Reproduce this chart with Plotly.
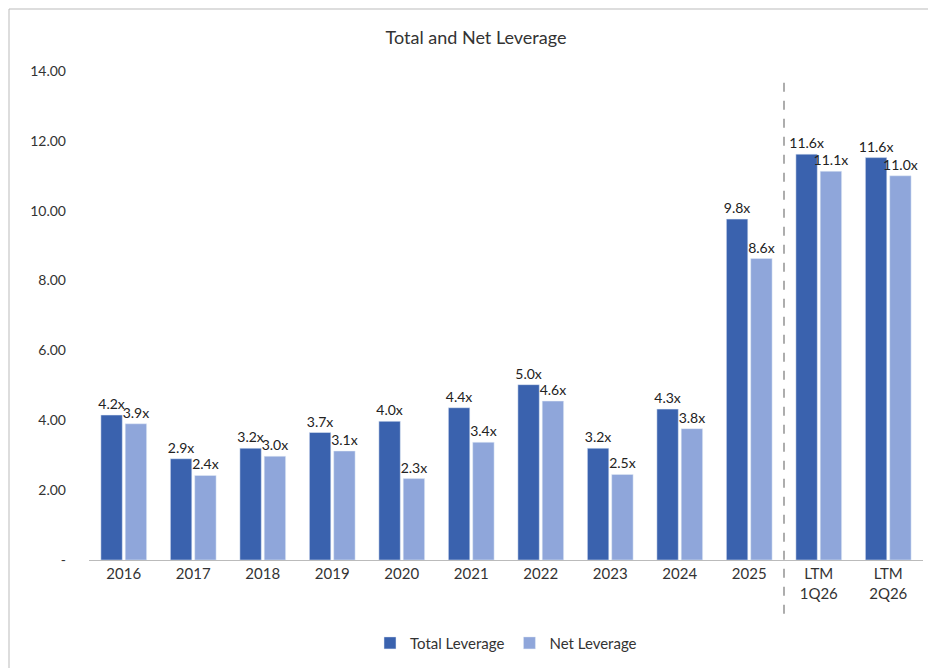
import plotly.graph_objects as go

categories = ["2016", "2017", "2018", "2019", "2020", "2021", "2022", "2023", "2024", "2025",
              "LTM<br>1Q26", "LTM<br>2Q26"]
total_leverage = [4.15, 2.9, 3.2, 3.65, 3.97, 4.36, 5.02, 3.2, 4.32, 9.76, 11.62, 11.52]
net_leverage = [3.9, 2.42, 2.97, 3.12, 2.33, 3.37, 4.55, 2.45, 3.76, 8.63, 11.13, 11.0]
total_labels = ["4.2x", "2.9x", "3.2x", "3.7x", "4.0x", "4.4x", "5.0x", "3.2x", "4.3x", "9.8x", "11.6x", "11.6x"]
net_labels = ["3.9x", "2.4x", "3.0x", "3.1x", "2.3x", "3.4x", "4.6x", "2.5x", "3.8x", "8.6x", "11.1x", "11.0x"]

font = "Lato, Liberation Sans, sans-serif"

fig = go.Figure()
fig.add_trace(go.Bar(x=categories, y=total_leverage, name="Total Leverage", marker_color="#3A62AE",
                     text=total_labels, textposition="outside", cliponaxis=False,
                     constraintext="none", textfont=dict(size=14, color="#222")))
fig.add_trace(go.Bar(x=categories, y=net_leverage, name="Net Leverage", marker_color="#8FA6DA",
                     text=net_labels, textposition="outside", cliponaxis=False,
                     constraintext="none", textfont=dict(size=14, color="#222")))

# plot area: left 81, right 21, top 63, bottom 116
L, R, T, B = 81, 21, 63, 116
pw, ph = 936 - L - R, 668 - T - B
fig.add_shape(type="rect", xref="paper", yref="paper",
              x0=-(L - 1) / pw, x1=1 + (R - 1) / pw, y0=-(B - 1) / ph, y1=1 + (T - 1) / ph,
              line=dict(color="#BBBBBB", width=1))
fig.add_shape(type="line", xref="x", yref="paper", x0=9.5, x1=9.5, y0=-0.11, y1=0.98,
              line=dict(color="#777777", width=1.2, dash="dash"))

fig.update_layout(
    width=936, height=668,
    margin=dict(l=L, r=R, t=T, b=B, autoexpand=False),
    paper_bgcolor="white", plot_bgcolor="white",
    font=dict(family=font, size=14, color="#333"),
    title=dict(text="Total and Net Leverage", x=0.5, xanchor="center", y=0.955, yanchor="middle",
               font=dict(size=18, color="#333")),
    barmode="group", bargap=0.3, bargroupgap=0.12,
    legend=dict(orientation="h", x=0.5, xanchor="center", y=-0.17, yanchor="middle",
                font=dict(size=15)),
    showlegend=True,
)
fig.update_yaxes(range=[0, 14], tickvals=[0, 2, 4, 6, 8, 10, 12, 14],
                 ticktext=["-", "2.00", "4.00", "6.00", "8.00", "10.00", "12.00", "14.00"],
                 showgrid=False, zeroline=False, ticks="", ticklabelstandoff=22, automargin=False)
fig.update_xaxes(showline=True, linecolor="#BBBBBB", linewidth=1, ticks="", tickfont=dict(size=15),
                 automargin=False)

fig.write_html("out.html")
